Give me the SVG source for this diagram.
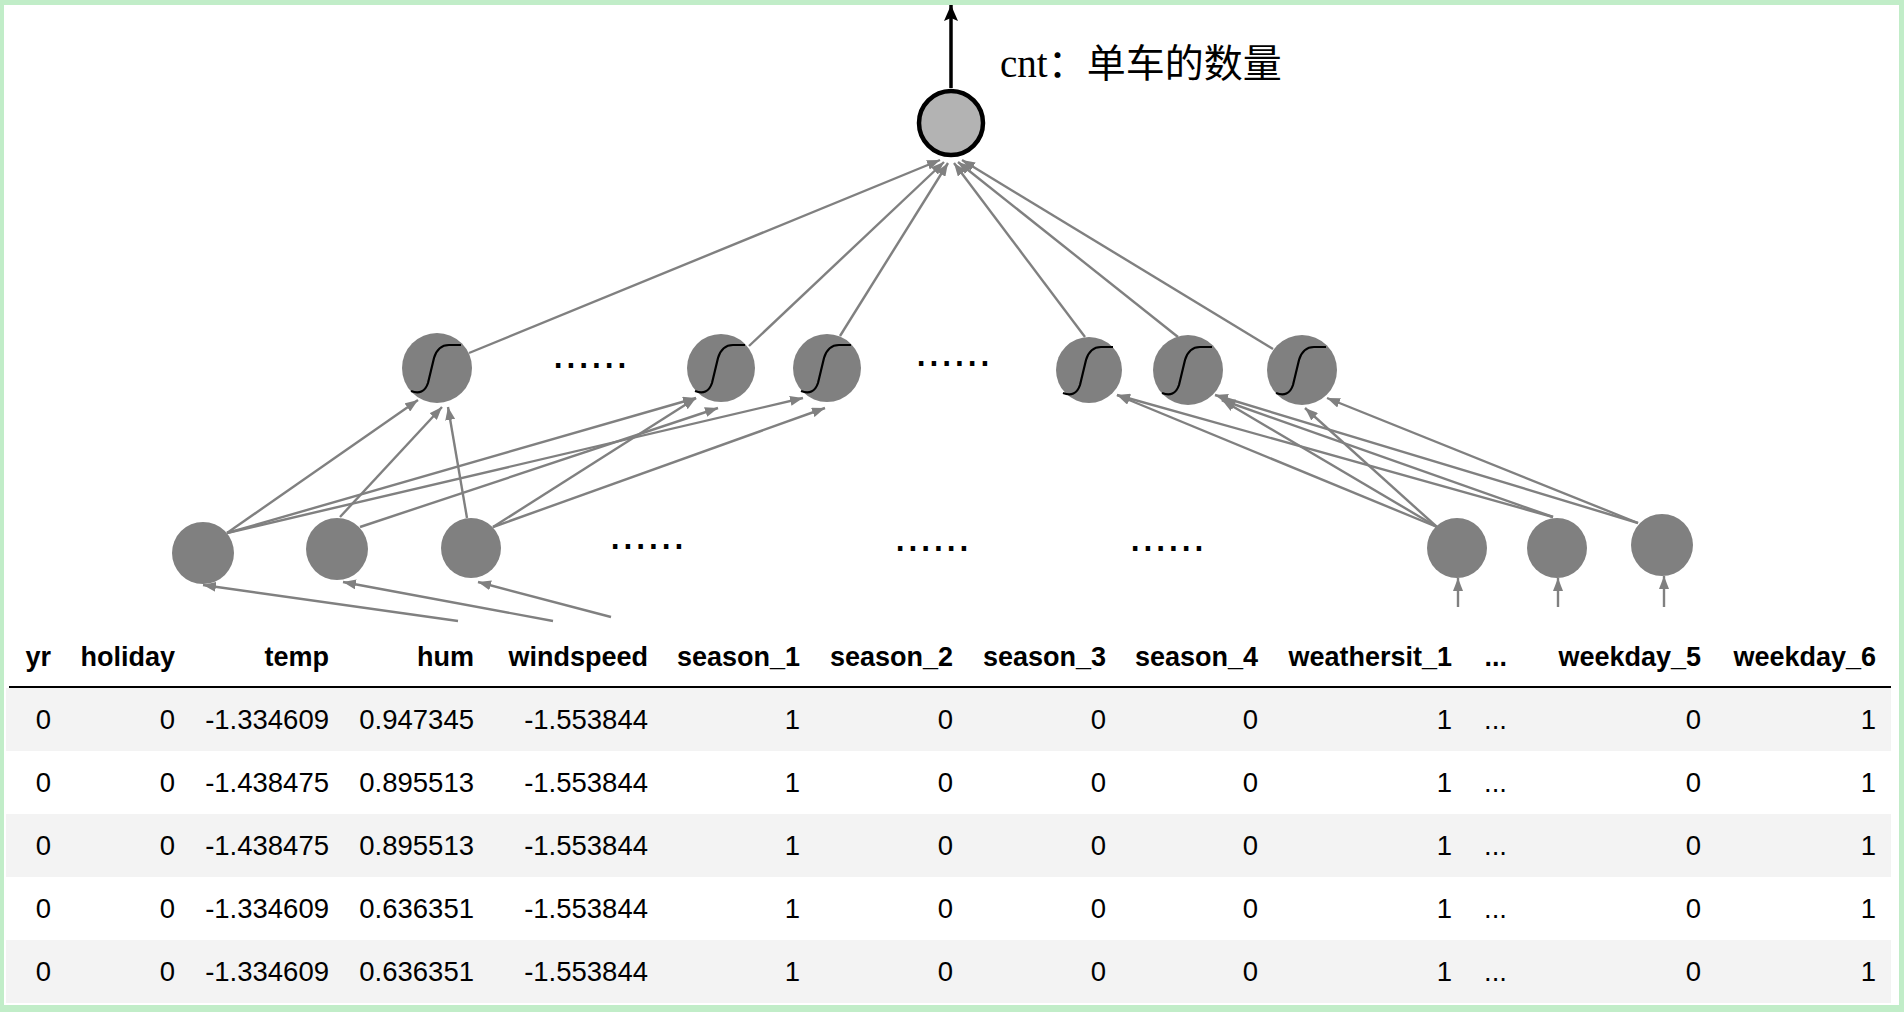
<svg xmlns="http://www.w3.org/2000/svg" xmlns:xlink="http://www.w3.org/1999/xlink" width="1904" height="1012" viewBox="0 0 1904 1012">
<style>
.edge{stroke:#808080;stroke-width:2.4;fill:none;marker-end:url(#ag)}
.node{fill:#808080}
.sig{fill:none;stroke:#000;stroke-width:2.2}
.dots{font-family:"Liberation Sans",sans-serif;font-size:46px;fill:#000;text-anchor:middle}
.th{font-family:"Liberation Sans",Arial,sans-serif;font-size:27px;font-weight:bold;fill:#000;text-anchor:end}
.td{font-family:"Liberation Sans",Arial,sans-serif;font-size:27.5px;fill:#000;text-anchor:end}
.odd{fill:#f3f3f3}
</style>
<defs>
<marker id="ag" markerUnits="userSpaceOnUse" markerWidth="13" markerHeight="10" refX="13" refY="5" orient="auto"><path d="M0,0 L13,5 L0,10 z" fill="#808080"/></marker>
<marker id="ab" markerUnits="userSpaceOnUse" markerWidth="16" markerHeight="14" refX="16" refY="7" orient="auto"><path d="M0,0 L16,7 L0,14 L3,7 z" fill="#000"/></marker>
<path id="sig" class="sig" d="M-26,23 C-18,26 -12,24 -9,15 L-3,-10 C0,-20 5,-23 12,-23 L24,-23"/>
</defs>
<rect width="1904" height="1012" fill="#c1edc8"/>
<rect x="4" y="5" width="1895" height="1000" fill="#fff"/>

<g id="connectors">
<line x1="951" y1="88" x2="951" y2="5" stroke="#000" stroke-width="3.5" marker-end="url(#ab)"/>
<line class="edge" x1="469" y1="353" x2="940" y2="160"/>
<line class="edge" x1="749" y1="346" x2="944" y2="162"/>
<line class="edge" x1="840" y1="336" x2="948" y2="163"/>
<line class="edge" x1="1085" y1="337" x2="954" y2="163"/>
<line class="edge" x1="1178" y1="337" x2="958" y2="162"/>
<line class="edge" x1="1273" y1="349" x2="962" y2="160"/>
<line class="edge" x1="227" y1="533" x2="418" y2="400"/>
<line class="edge" x1="227" y1="533" x2="696" y2="398"/>
<line class="edge" x1="227" y1="533" x2="803" y2="398"/>
<line class="edge" x1="340" y1="517" x2="442" y2="407"/>
<line class="edge" x1="360" y1="527" x2="718" y2="408"/>
<line class="edge" x1="467" y1="518" x2="448" y2="407"/>
<line class="edge" x1="493" y1="527" x2="696" y2="398"/>
<line class="edge" x1="493" y1="527" x2="825" y2="408"/>
<line class="edge" x1="1437" y1="527" x2="1117" y2="395"/>
<line class="edge" x1="1437" y1="527" x2="1222" y2="400"/>
<line class="edge" x1="1437" y1="527" x2="1305" y2="408"/>
<line class="edge" x1="1553" y1="517" x2="1117" y2="395"/>
<line class="edge" x1="1553" y1="517" x2="1222" y2="400"/>
<line class="edge" x1="1638" y1="523" x2="1215" y2="395"/>
<line class="edge" x1="1638" y1="523" x2="1327" y2="398"/>
<line class="edge" x1="458" y1="621" x2="203" y2="585"/>
<line class="edge" x1="553" y1="621" x2="343" y2="582"/>
<line class="edge" x1="611" y1="617" x2="478" y2="582"/>
<line class="edge" x1="1458" y1="607" x2="1458" y2="578"/>
<line class="edge" x1="1558" y1="607" x2="1558" y2="578"/>
<line class="edge" x1="1664" y1="607" x2="1664" y2="576"/>
</g>

<g id="output"><circle cx="951" cy="123" r="32" fill="#b3b3b3" stroke="#000" stroke-width="4.5"/></g>
<text x="1000" y="77" font-family="'Liberation Serif','Noto Sans CJK SC',serif" font-size="39" fill="#000">cnt：单车的数量</text>

<g id="h1"><circle class="node" cx="437" cy="368" r="35"/><use xlink:href="#sig" x="437" y="368"/></g>
<g id="h2"><circle class="node" cx="721" cy="368" r="34"/><use xlink:href="#sig" x="721" y="368"/></g>
<g id="h3"><circle class="node" cx="827" cy="368" r="34"/><use xlink:href="#sig" x="827" y="368"/></g>
<g id="h4"><circle class="node" cx="1089" cy="370" r="33"/><use xlink:href="#sig" x="1089" y="370"/></g>
<g id="h5"><circle class="node" cx="1188" cy="370" r="35"/><use xlink:href="#sig" x="1188" y="370"/></g>
<g id="h6"><circle class="node" cx="1302" cy="370" r="35"/><use xlink:href="#sig" x="1302" y="370"/></g>
<text class="dots" x="590" y="368">......</text>
<text class="dots" x="953" y="366">......</text>

<g id="i1"><circle class="node" cx="203" cy="553" r="31"/></g>
<g id="i2"><circle class="node" cx="337" cy="549" r="31"/></g>
<g id="i3"><circle class="node" cx="471" cy="548" r="30"/></g>
<g id="i4"><circle class="node" cx="1457" cy="548" r="30"/></g>
<g id="i5"><circle class="node" cx="1557" cy="548" r="30"/></g>
<g id="i6"><circle class="node" cx="1662" cy="545" r="31"/></g>
<text class="dots" x="647" y="549">......</text>
<text class="dots" x="932" y="551">......</text>
<text class="dots" x="1167" y="551">......</text>

<g id="table">
<rect class="odd" x="6" y="688" width="1885" height="63"/>
<rect class="odd" x="6" y="814" width="1885" height="63"/>
<rect class="odd" x="6" y="940" width="1885" height="63"/>
<line x1="9" y1="687" x2="1891" y2="687" stroke="#000" stroke-width="2"/>
<g class="th">
<text x="51" y="666">yr</text><text x="175" y="666">holiday</text><text x="329" y="666">temp</text><text x="474" y="666">hum</text><text x="648" y="666">windspeed</text><text x="800" y="666">season_1</text><text x="953" y="666">season_2</text><text x="1106" y="666">season_3</text><text x="1258" y="666">season_4</text><text x="1452" y="666">weathersit_1</text><text x="1507" y="666">...</text><text x="1701" y="666">weekday_5</text><text x="1876" y="666">weekday_6</text>
</g>
<g class="td">
<text x="51" y="729">0</text><text x="175" y="729">0</text><text x="329" y="729">-1.334609</text><text x="474" y="729">0.947345</text><text x="648" y="729">-1.553844</text><text x="800" y="729">1</text><text x="953" y="729">0</text><text x="1106" y="729">0</text><text x="1258" y="729">0</text><text x="1452" y="729">1</text><text x="1507" y="729">...</text><text x="1701" y="729">0</text><text x="1876" y="729">1</text>
<text x="51" y="792">0</text><text x="175" y="792">0</text><text x="329" y="792">-1.438475</text><text x="474" y="792">0.895513</text><text x="648" y="792">-1.553844</text><text x="800" y="792">1</text><text x="953" y="792">0</text><text x="1106" y="792">0</text><text x="1258" y="792">0</text><text x="1452" y="792">1</text><text x="1507" y="792">...</text><text x="1701" y="792">0</text><text x="1876" y="792">1</text>
<text x="51" y="855">0</text><text x="175" y="855">0</text><text x="329" y="855">-1.438475</text><text x="474" y="855">0.895513</text><text x="648" y="855">-1.553844</text><text x="800" y="855">1</text><text x="953" y="855">0</text><text x="1106" y="855">0</text><text x="1258" y="855">0</text><text x="1452" y="855">1</text><text x="1507" y="855">...</text><text x="1701" y="855">0</text><text x="1876" y="855">1</text>
<text x="51" y="918">0</text><text x="175" y="918">0</text><text x="329" y="918">-1.334609</text><text x="474" y="918">0.636351</text><text x="648" y="918">-1.553844</text><text x="800" y="918">1</text><text x="953" y="918">0</text><text x="1106" y="918">0</text><text x="1258" y="918">0</text><text x="1452" y="918">1</text><text x="1507" y="918">...</text><text x="1701" y="918">0</text><text x="1876" y="918">1</text>
<text x="51" y="981">0</text><text x="175" y="981">0</text><text x="329" y="981">-1.334609</text><text x="474" y="981">0.636351</text><text x="648" y="981">-1.553844</text><text x="800" y="981">1</text><text x="953" y="981">0</text><text x="1106" y="981">0</text><text x="1258" y="981">0</text><text x="1452" y="981">1</text><text x="1507" y="981">...</text><text x="1701" y="981">0</text><text x="1876" y="981">1</text>
</g>
</g>
</svg>
